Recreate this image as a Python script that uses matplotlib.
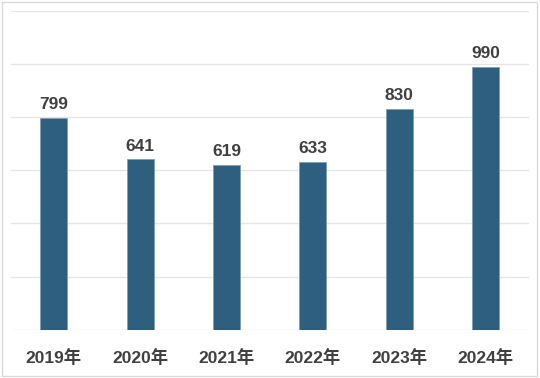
import matplotlib
matplotlib.use("Agg")
import matplotlib.pyplot as plt
from matplotlib.patches import Rectangle

plt.rcParams['font.family'] = ['Liberation Sans', 'Noto Sans CJK SC', 'DejaVu Sans']

years = ["2019年", "2020年", "2021年", "2022年", "2023年", "2024年"]
values = [799, 641, 619, 633, 830, 990]

bar_color = "#2E5F7F"
text_color = "#404040"
grid_color = "#E6E6E6"

fig = plt.figure(figsize=(5.4, 3.78), dpi=100)
ax = fig.add_axes([0.0198, 0.1278, 0.9593, 0.843])

x = range(len(years))
bars = ax.bar(x, values, width=0.313, color=bar_color, edgecolor="#7F9FB5", linewidth=0.6, zorder=3)

for rect, v in zip(bars, values):
    ax.annotate(str(v), (rect.get_x() + rect.get_width() / 2, v),
                xytext=(0, 4.3), textcoords="offset points",
                ha="center", va="bottom", fontsize=12.5, fontweight="bold",
                color=text_color)

ax.set_xlim(-0.5, len(years) - 0.5)
ax.set_ylim(0, 1200)
ax.set_yticks(range(0, 1201, 200))
ax.set_yticklabels([])
ax.set_xticks(list(x))
ax.set_xticklabels(years, fontsize=12.5, fontweight="bold", color=text_color)
ax.tick_params(axis="both", which="both", length=0)
ax.tick_params(axis="x", pad=14)
ax.grid(axis="y", color=grid_color, linewidth=1, zorder=0)
for s in ax.spines.values():
    s.set_visible(False)

# chart frame
fig.patches.append(Rectangle((0.004, 0.006), 0.99, 0.988, transform=fig.transFigure,
                             fill=False, edgecolor="#D9D9D9", linewidth=1))

fig.savefig("out.png", dpi=100)
